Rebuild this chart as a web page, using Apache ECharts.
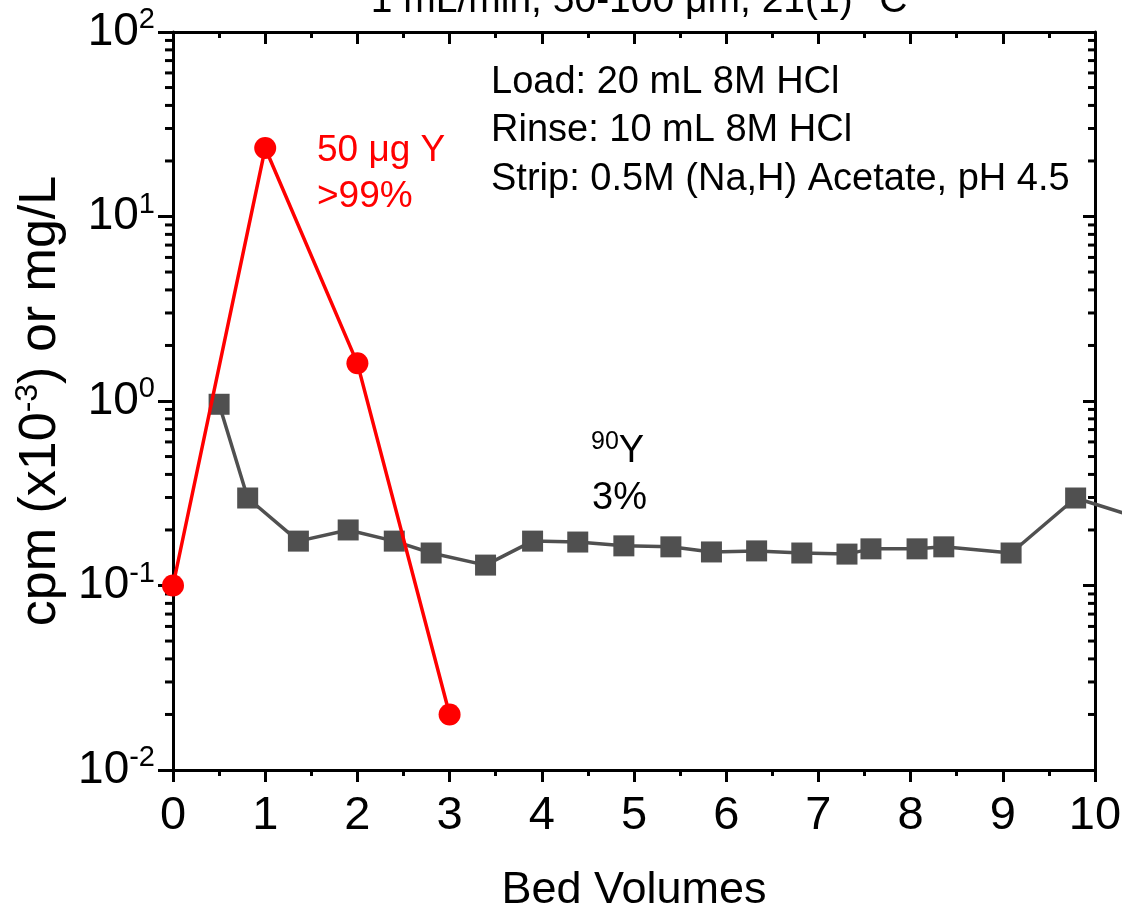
<!DOCTYPE html>
<html><head><meta charset="utf-8">
<script src="https://cdn.jsdelivr.net/npm/echarts@6/dist/echarts.min.js"></script>
<style>html,body{margin:0;padding:0;background:#fff}#c{width:1122px;height:910px}</style>
</head><body><div id="c"></div>
<script>
// Data
const yttriumMass = [[0, 0.1], [1, 23.5], [2, 1.6], [3, 0.02]];
const y90Activity = [
  [0.50, 0.96], [0.81, 0.298], [1.36, 0.174], [1.90, 0.200], [2.40, 0.174],
  [2.80, 0.150], [3.39, 0.129], [3.90, 0.174], [4.39, 0.172], [4.89, 0.164],
  [5.40, 0.162], [5.84, 0.152], [6.33, 0.154], [6.82, 0.150], [7.31, 0.148],
  [7.57, 0.158], [8.07, 0.158], [8.36, 0.162], [9.09, 0.150], [9.79, 0.298]
];
// next point, beyond the right edge of the axis (only its connecting line is visible)
const y90Beyond = [[9.79, 0.298], [10.5, 0.23]];
const xTicks = [0, 1, 2, 3, 4, 5, 6, 7, 8, 9, 10];
const yDecades = [-2, -1, 0, 1, 2];
const minorLogTicks = [];
for (let k = -2; k < 2; k++) for (let m = 2; m <= 9; m++) minorLogTicks.push(m * Math.pow(10, k));

const FONT = '"Liberation Sans", Arial, sans-serif';
const chart = echarts.init(document.getElementById('c'), null, {renderer: 'canvas'});
const supLabel = v => '10{sup|' + Math.round(Math.log10(v)) + '}';
const GRAY = '#505050';

chart.setOption({
  animation: false,
  title: {
    text: '1 mL/min, 50-100 \u03bcm, 21(1) \u00b0C',
    left: 634, top: -23, textAlign: 'center',
    textStyle: {fontFamily: FONT, fontSize: 39, fontWeight: 'normal', color: '#000'}
  },
  grid: {left: 173, right: 27, top: 32, bottom: 140, containLabel: false, outerBoundsMode: 'none'},
  xAxis: [{
    type: 'value', min: 0, max: 10, interval: 1, position: 'bottom',
    name: 'Bed Volumes', nameLocation: 'middle', nameGap: 98,
    nameTextStyle: {fontFamily: FONT, fontSize: 45, color: '#000'},
    axisLine: {show: true, onZero: false, lineStyle: {color: '#000', width: 3}},
    axisTick: {show: true, inside: false, length: 12, lineStyle: {color: '#000', width: 3}},
    minorTick: {show: true, splitNumber: 2, length: 6, lineStyle: {color: '#000', width: 3}},
    axisLabel: {fontFamily: FONT, fontSize: 47, color: '#000', margin: 23,
      formatter: v => xTicks.includes(v) ? String(v) : ''},
    splitLine: {show: false}
  }, {
    type: 'value', min: 0, max: 10, interval: 1, position: 'top',
    axisLine: {show: true, onZero: false, lineStyle: {color: '#000', width: 3}},
    axisTick: {show: true, inside: true, length: 12, lineStyle: {color: '#000', width: 3}},
    minorTick: {show: true, splitNumber: 2, length: 6, lineStyle: {color: '#000', width: 3}},
    axisLabel: {show: false}, splitLine: {show: false}
  }],
  yAxis: [{
    type: 'log', logBase: 10, min: 0.01, max: 100, interval: 1, position: 'left',
    name: 'cpm (x10{sup|-3}) or mg/L', nameLocation: 'middle', nameGap: 100,
    nameTextStyle: {fontFamily: FONT, fontSize: 52, color: '#000',
      rich: {sup: {fontFamily: FONT, fontSize: 32, color: '#000', padding: [0,0,26,0]}}},
    axisLine: {show: true, onZero: false, lineStyle: {color: '#000', width: 3}},
    axisTick: {show: true, inside: false, length: 15, lineStyle: {color: '#000', width: 3}},
    axisLabel: {fontFamily: FONT, fontSize: 46, color: '#000', margin: 18, formatter: supLabel,
      rich: {sup: {fontFamily: FONT, fontSize: 29, color: '#000', padding: [0,0,24,0]}}},
    splitLine: {show: false}
  }, {
    type: 'log', logBase: 10, min: 0.01, max: 100, interval: 1, position: 'right',
    axisLine: {show: true, onZero: false, lineStyle: {color: '#000', width: 3}},
    axisTick: {show: true, inside: true, length: 12, lineStyle: {color: '#000', width: 3}},
    axisLabel: {show: false}, splitLine: {show: false}
  }],
  series: [{
    type: 'custom', name: 'minorTicks', xAxisIndex: 0, yAxisIndex: 0, silent: true,
    data: minorLogTicks,
    renderItem: (params, api) => {
      const v = api.value(0);
      const pl = api.coord([0, v]);
      const pr = api.coord([10, v]);
      const st = {stroke: '#000', lineWidth: 3};
      return {type: 'group', children: [
        {type: 'line', shape: {x1: pl[0] - 8, y1: pl[1], x2: pl[0], y2: pl[1]}, style: st},
        {type: 'line', shape: {x1: pr[0] - 7, y1: pr[1], x2: pr[0], y2: pr[1]}, style: st}
      ]};
    },
    encode: {y: 0}
  }, {
    type: 'custom', name: '90Y tail', silent: true, clip: false, z: 2,
    data: y90Beyond,
    renderItem: (params, api) => {
      if (params.dataIndex !== 0) return null;
      const a = api.coord([y90Beyond[0][0], y90Beyond[0][1]]);
      const b = api.coord([y90Beyond[1][0], y90Beyond[1][1]]);
      return {type: 'line', shape: {x1: a[0], y1: a[1], x2: b[0], y2: b[1]},
        style: {stroke: GRAY, lineWidth: 3.5}};
    },
    encode: {x: 0, y: 1}
  }, {
    type: 'line', name: '90Y', data: y90Activity, clip: false,
    symbol: 'rect', symbolSize: 21, z: 3,
    itemStyle: {color: GRAY}, lineStyle: {color: GRAY, width: 3.5}
  }, {
    type: 'line', name: 'Y', data: yttriumMass, clip: false,
    symbol: 'circle', symbolSize: 22, z: 4,
    itemStyle: {color: '#ff0000'}, lineStyle: {color: '#ff0000', width: 3.5}
  }],
  graphic: [
    {type: 'text', left: 491, top: 58, style: {text: 'Load: 20 mL 8M HCl\nRinse: 10 mL 8M HCl\nStrip: 0.5M (Na,H) Acetate, pH 4.5',
      font: '38px ' + FONT, fill: '#000', lineHeight: 48.5}},
    {type: 'text', left: 317, top: 128, style: {text: '50 \u03bcg Y\n>99%', font: '37px ' + FONT, fill: '#ff0000', lineHeight: 46}},
    {type: 'text', left: 591, top: 430, style: {text: '{s|90}{b|Y}', rich: {
      s: {font: '25px ' + FONT, fill: '#000', verticalAlign: 'top', padding: [0,0,18,0]},
      b: {font: '38px ' + FONT, fill: '#000'}}}},
    {type: 'text', left: 592, top: 480, style: {text: '3%', font: '38px ' + FONT, fill: '#000'}}
  ]
});
</script></body></html>
